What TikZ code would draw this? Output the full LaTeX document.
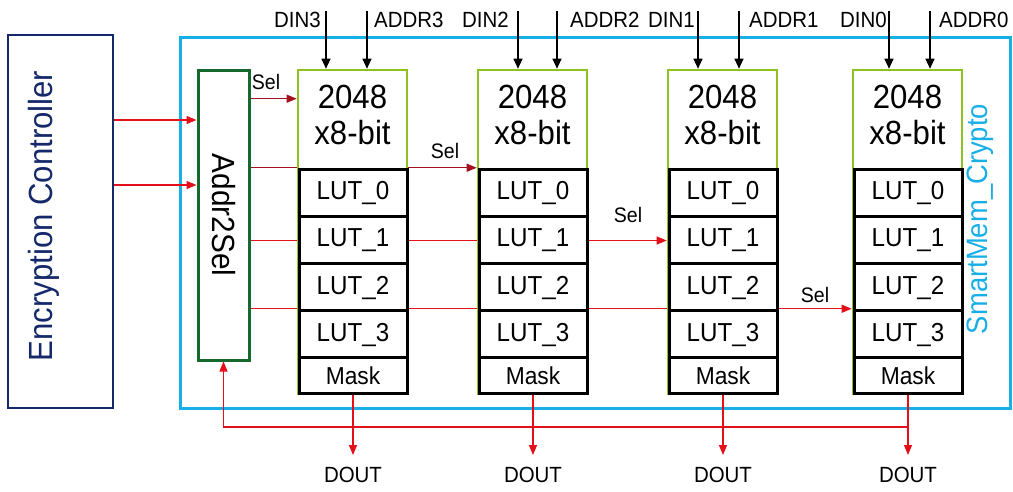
\documentclass[tikz,border=0pt]{standalone}
\usepackage{fontspec}
\setmainfont{Liberation Sans}[FakeStretch=0.93]
\usetikzlibrary{arrows.meta,backgrounds}

\definecolor{ctrlnavy}{HTML}{15296A}
\definecolor{smartcyan}{HTML}{18AEE6}
\definecolor{selgreen}{HTML}{15692C}
\definecolor{bankgreen}{HTML}{8DC21F}
\definecolor{seldark}{HTML}{A3121C}
\definecolor{sigred}{HTML}{E3101C}

\tikzset{
    ctrl box/.style={
      draw=ctrlnavy,
      line width=2.6pt,
      minimum width=105pt,
      minimum height=373pt
    },
    ctrl label/.style={
      text=ctrlnavy,
      font=\fontsize{33.5}{38}\selectfont
    },
    smart box/.style={
      draw=smartcyan,
      line width=3pt,
      minimum width=830pt,
      minimum height=371pt
    },
    smart label/.style={
      text=smartcyan,
      font=\fontsize{29.5}{34}\selectfont
    },
    sel box/.style={
      draw=selgreen,
      line width=3pt,
      minimum width=51pt,
      minimum height=290pt
    },
    sel label/.style={
      font=\fontsize{32}{36}\selectfont
    },
    bank box/.style={
      draw=bankgreen,
      line width=2.6pt,
      fill=white,
      minimum width=109pt,
      minimum height=324pt
    },
    bank text/.style={
      align=center,
      inner sep=0pt,
      font=\fontsize{33.5}{36}\selectfont
    },
    lut box/.style={
      draw=black,
      line width=3pt,
      fill=white,
      inner sep=0pt,
      minimum width=108pt,
      minimum height=48.5pt,
      font=\fontsize{26}{30}\selectfont
    },
    mask box/.style={
      lut box,
      minimum height=36.5pt,
      font=\fontsize{24.5}{28}\selectfont
    },
    io label/.style={
      inner sep=0pt,
      font=\fontsize{22}{26}\selectfont
    },
    sel text/.style={
      inner sep=0pt,
      font=\fontsize{21}{24}\selectfont
    },
    io arrow/.style={
      draw=black,
      line width=1.1pt,
      -{Triangle[length=10pt,width=9pt]}
    },
    sig arrow/.style={
      draw=sigred,
      line width=1.2pt,
      -{Triangle[length=10pt,width=8pt]}
    }
  }

\begin{document}
\begin{tikzpicture}[x=1pt, y=-1pt]
  \useasboundingbox (0,0) rectangle (1013,491);

  % Steuerung links
  \node[ctrl box] (ctrl) at (60.5,221.5) {};
  \node[ctrl label, rotate=90] (ctrllbl) at (44,216) {Encryption Controller};

  % Rahmen SmartMem
  \node[smart box] (smart) at (595,222.5) {};
  \node[smart label, rotate=90] (smartlbl) at (980,219) {SmartMem\_Crypto};

  % Addr2Sel
  \node[sel box] (sel) at (223.5,215) {};
  \node[sel label, rotate=-90] (seltxt) at (sel.center) {Addr2Sel};

  % Speicherbaenke
  \foreach \k/\xl/\xd/\xa/\ld/\la in {3/298/326/367/321/374, 2/478/518/557/509/570,
                                      1/668/698/739/695/749, 0/853/889/930/887/939} {
    \node[bank box] (mem\k) at (\xl+54.5,232) {};
    \node[bank text] (cap\k) at (\xl+54.5,115) {2048\\x8-bit};
    \foreach \j/\yc in {0/193.5, 1/240.5, 2/287.5, 3/334.5}
      \node[lut box] (lut\k-\j) at (\xl+55,\yc) {LUT\_\j};
    \node[mask box] (mask\k) at (\xl+55,375.5) {Mask};
    % Eingaenge
    \coordinate (din\k) at (\xd,11);
    \coordinate (addr\k) at (\xa,11);
    \draw[io arrow] (din\k) -- (din\k |- mem\k.north);
    \draw[io arrow] (addr\k) -- (addr\k |- mem\k.north);
    \node[io label, anchor=east] (dinlbl\k) at (\ld,20) {DIN\k};
    \node[io label, anchor=west] (addrlbl\k) at (\la,20) {ADDR\k};
    % Ausgang
    \node[io label] (doutlbl\k) at (mask\k.south |- 0,475) {DOUT};
    \draw[sig arrow, shorten >=12pt] (mask\k.south) -- (doutlbl\k);
  }

  % Steuersignale
  \draw[sig arrow] (ctrl.east |- 0,120) -- (sel.west |- 0,120);
  \draw[sig arrow] (ctrl.east |- 0,185) -- (sel.west |- 0,185);

  \begin{scope}[on background layer]
    \path ([yshift=-30pt]mem3.north west) coordinate (selin3);
    \draw[sig arrow, draw=seldark] (sel.east |- selin3) -- (selin3);
    \draw[sig arrow, draw=seldark] (sel.east |- lut2-0.north) -- (mem2.west |- lut2-0.north);
    \draw[sig arrow] (sel.east |- lut1-1) -- (mem1.west |- lut1-1);
    \draw[sig arrow] (sel.east |- lut0-3.north) -- (mem0.west |- lut0-3.north);
  \end{scope}

  \node[sel text] (selmark3) at (266,82) {Sel};
  \node[sel text] (selmark2) at (445,151) {Sel};
  \node[sel text] (selmark1) at (628,215) {Sel};
  \node[sel text] (selmark0) at (815,295) {Sel};

  % Rueckfuehrung
  \coordinate (fb) at (sel.south |- 0,427);
  \draw[sig arrow] (mask0.south |- fb) -- (fb) -- (sel.south);
\end{tikzpicture}
\end{document}
